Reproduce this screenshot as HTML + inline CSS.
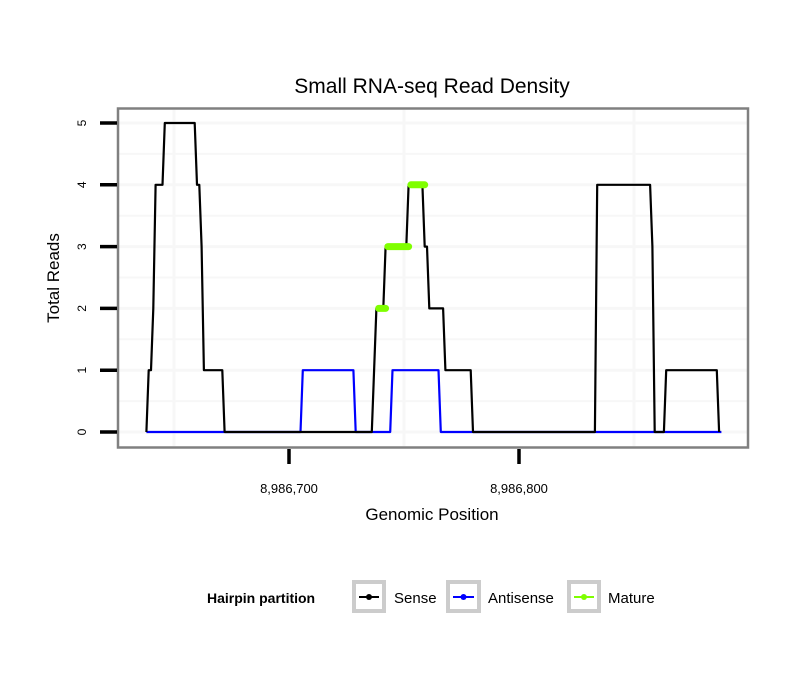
<!DOCTYPE html>
<html><head><meta charset="utf-8"><style>
body{margin:0;background:#fff;}
svg{display:block;font-family:"Liberation Sans",sans-serif;}
</style></head><body>
<svg id="chart" width="810" height="690" xmlns="http://www.w3.org/2000/svg">
<rect width="810" height="690" fill="#fff"/>
<text x="432" y="93" font-size="21" text-anchor="middle">Small RNA-seq Read Density</text>
<g id="grid"></g>
<g id="series"></g>
<rect x="118" y="108.5" width="630" height="339" fill="none" stroke="#808080" stroke-width="2.5"/>
<g id="axes"></g>
<text transform="translate(59,278) rotate(-90)" font-size="17" text-anchor="middle">Total Reads</text>
<text x="432" y="520" font-size="17" text-anchor="middle">Genomic Position</text>
<g>
<text x="207" y="603" font-size="14" font-weight="bold">Hairpin partition</text>
<g>
<rect x="354" y="582" width="30" height="29" fill="#fff" stroke="#ccc" stroke-width="4"/>
<line x1="359" y1="597" x2="379" y2="597" stroke="#000" stroke-width="2"/><circle cx="369" cy="597" r="3" fill="#000"/>
<text x="394" y="603" font-size="15">Sense</text></g>
<g>
<rect x="448" y="582" width="31" height="29" fill="#fff" stroke="#ccc" stroke-width="4"/>
<line x1="453" y1="597" x2="474" y2="597" stroke="#00f" stroke-width="2"/><circle cx="463.5" cy="597" r="3" fill="#00f"/>
<text x="488" y="603" font-size="15">Antisense</text></g>
<g>
<rect x="569" y="582" width="30" height="29" fill="#fff" stroke="#ccc" stroke-width="4"/>
<line x1="574" y1="597" x2="594" y2="597" stroke="#7fff00" stroke-width="2"/><circle cx="584" cy="597" r="3" fill="#7fff00"/>
<text x="608" y="603" font-size="15">Mature</text></g>
</g>
</svg>
<script>
const origin = 8986700;
const senseStart = -62;
const senseValues = [0,1,1,2,4,4,4,4,5,5,5,5,5,5,5,5,5,5,5,5,5,5,4,4,3,1,1,1,1,1,1,1,1,1,0,
0,0,0,0,0,0,0,0,0,0,0,0,0,0,0,0,0,0,0,0,0,0,0,0,0,0,0,0,0,0,0,0,0,0,0,0,0,0,0,0,0,0,0,0,0,0,0,0,0,0,0,0,0,0,0,0,0,0,0,0,0,0,0,0,
1,2,2,2,2,3,3,3,3,3,3,3,3,3,3,4,4,4,4,4,4,4,3,3,2,2,2,2,2,2,2,1,1,1,1,1,1,1,1,1,1,1,1,0,
0,0,0,0,0,0,0,0,0,0,0,0,0,0,0,0,0,0,0,0,0,0,0,0,0,0,0,0,0,0,0,0,0,0,0,0,0,0,0,0,0,0,0,0,0,0,0,0,0,0,0,0,0,
4,4,4,4,4,4,4,4,4,4,4,4,4,4,4,4,4,4,4,4,4,4,4,4,3,0,0,0,0,0,1,1,1,1,1,1,1,1,1,1,1,1,1,1,1,1,1,1,1,1,1,1,1,0];
const antiStarts = [-62,6,29,45,66];
const antiEnds = [5,28,44,65,188];
const antiValues = [0,1,0,1,0];
const matureStarts = [39,43,53];
const matureEnds = [42,52,59];
const matureValues = [2,3,4];
const yTicks = [0,1,2,3,4,5];
const xTicks = [8986700,8986800];
const xTickLabels = ["8,986,700","8,986,800"];
const xGrid = [8986650,8986750,8986850];

const NS="http://www.w3.org/2000/svg";
function X(pos){return 289+(pos-origin)*2.3;}
function Y(v){return 432-v*61.8;}
function mk(tag,attrs,parent){const e=document.createElementNS(NS,tag);for(const k in attrs)e.setAttribute(k,attrs[k]);parent.appendChild(e);return e;}
const grid=document.getElementById('grid'),series=document.getElementById('series'),axes=document.getElementById('axes');
for(let v=0;v<=5;v+=0.5){const l=mk('line',{x1:119,x2:747,y1:Y(v),y2:Y(v),stroke:'#f7f7f7','stroke-width':v%1===0?3:2},grid);

}
xGrid.forEach(p=>{const l=mk('line',{x1:X(p),x2:X(p),y1:110,y2:446,stroke:'#f7f7f7','stroke-width':3},grid);

});
let ap=[];antiValues.forEach((v,i)=>{for(let b=antiStarts[i];b<=antiEnds[i];b++)ap.push(X(origin+b)+','+Y(v));});
const a=mk('polyline',{points:ap.join(' '),fill:'none',stroke:'#0000ff','stroke-width':2.2,'stroke-linejoin':'round'},series);


let sp=senseValues.map((v,i)=>X(origin+senseStart+i)+','+Y(v));
const s=mk('polyline',{points:sp.join(' '),fill:'none',stroke:'#000','stroke-width':2.2,'stroke-linejoin':'round'},series);


matureValues.forEach((v,i)=>{const m=mk('line',{x1:X(origin+matureStarts[i]),x2:X(origin+matureEnds[i]),y1:Y(v),y2:Y(v),stroke:'#7fff00','stroke-width':7,'stroke-linecap':'round'},series);

});
yTicks.forEach(v=>{const t=mk('line',{x1:100,x2:117,y1:Y(v),y2:Y(v),stroke:'#000','stroke-width':3.5},axes);


const tx=mk('text',{transform:`translate(86,${Y(v)}) rotate(-90)`,'font-size':12,'text-anchor':'middle'},axes);tx.textContent=v;

});
xTicks.forEach((p,i)=>{const t=mk('line',{x1:X(p),x2:X(p),y1:449,y2:464,stroke:'#000','stroke-width':3.5},axes);


const tx=mk('text',{x:X(p),y:493,'font-size':13,'text-anchor':'middle'},axes);tx.textContent=xTickLabels[i];

});
</script>
</body></html>
